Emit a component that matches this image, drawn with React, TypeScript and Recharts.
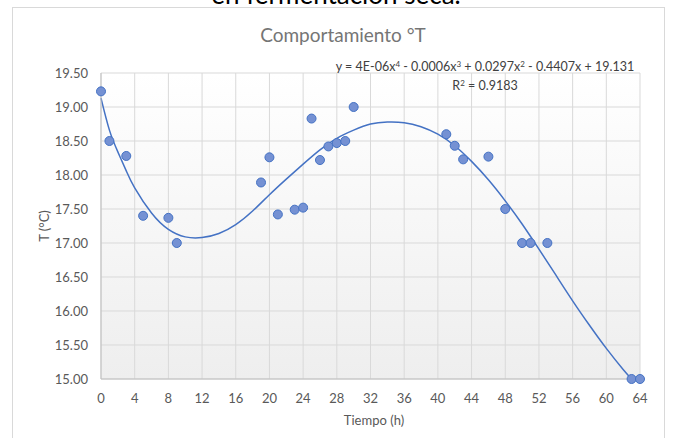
import { ComposedChart, Scatter, Line, XAxis, YAxis, CartesianGrid } from 'recharts'

// measured points
const hours = [0, 1, 3, 5, 8, 9, 19, 20, 21, 23, 24, 25, 26, 27, 28, 29, 30, 41, 42, 43, 46, 48, 50, 51, 53, 63, 64]
const temps = [19.23, 18.5, 18.28, 17.4, 17.37, 17.0, 17.89, 18.26, 17.42, 17.49, 17.52, 18.83, 18.22, 18.42, 18.47, 18.5, 19.0, 18.6, 18.43, 18.23, 18.27, 17.5, 17.0, 17.0, 17.0, 15.0, 15.0]

// polynomial trendline
const trendHours = [0, 1, 2, 3, 4, 6, 8, 10, 12, 14, 16, 18, 20, 22, 24, 26, 28, 30, 32, 34, 36, 38, 40, 42, 44, 46, 48, 50, 52, 54, 56, 58, 60, 62, 63]
const trendTemps = [19.13, 18.66, 18.34, 18.06, 17.81, 17.44, 17.2, 17.09, 17.08, 17.14, 17.27, 17.47, 17.71, 17.94, 18.16, 18.37, 18.54, 18.66, 18.75, 18.78, 18.77, 18.71, 18.6, 18.43, 18.2, 17.93, 17.62, 17.28, 16.91, 16.53, 16.15, 15.79, 15.45, 15.14, 15.0]

const xTicks = [0, 4, 8, 12, 16, 20, 24, 28, 32, 36, 40, 44, 48, 52, 56, 60, 64]
const yTicks = [15, 15.5, 16, 16.5, 17, 17.5, 18, 18.5, 19, 19.5]

const points = hours.map((h, i) => ({ h, t: temps[i] }))
const trend = trendHours.map((h, i) => ({ h, t: trendTemps[i] }))

const FONT = 'Lato, "Liberation Sans", sans-serif'
const TICK = { fill: '#595959', fontSize: 13, fontFamily: FONT }

export default function App() {
  return (
    <div style={{ position: 'absolute', left: 0, top: 0, width: 677, height: 438, background: '#fff', overflow: 'hidden' }}>
      <svg width={0} height={0} style={{ position: 'absolute' }}>
        <defs>
          <linearGradient id="plotBg" x1="0" y1="0" x2="0" y2="1">
            <stop offset="0%" stopColor="#ffffff" />
            <stop offset="100%" stopColor="#eeeeee" />
          </linearGradient>
        </defs>
      </svg>
      <ComposedChart width={677} height={438} margin={{ top: 73, right: 37, bottom: 0, left: 0 }}>
        <CartesianGrid stroke="#d9d9d9" fill="url(#plotBg)" fillOpacity={1} />
        <XAxis
          dataKey="h" type="number" domain={[0, 64]} ticks={xTicks} height={59}
          tick={TICK} tickLine={false} tickSize={0} tickMargin={15}
          axisLine={{ stroke: '#bfbfbf' }}
        />
        <YAxis
          dataKey="t" type="number" domain={[15, 19.5]} ticks={yTicks} width={101}
          tick={TICK} tickLine={false} tickSize={0} tickMargin={13}
          tickFormatter={(v: number) => v.toFixed(2)}
          axisLine={{ stroke: '#bfbfbf' }}
        />
        <Line
          data={trend} dataKey="t" type="natural" stroke="#4472c4" strokeWidth={1.5}
          dot={false} activeDot={false} isAnimationActive={false}
        />
        <Scatter
          data={points} dataKey="t" fill="#7591d3" stroke="#4472c4" strokeWidth={1}
          shape={(p: any) => <circle cx={p.cx} cy={p.cy} r={4.5} fill="#7591d3" stroke="#4472c4" strokeWidth={1} />}
          isAnimationActive={false}
        />
      </ComposedChart>
      <svg width={677} height={438} style={{ position: 'absolute', left: 0, top: 0, pointerEvents: 'none' }}>
        <rect x={12.5} y={7.5} width={652} height={440} fill="none" stroke="#d9d9d9" />
        <text x={336} y={4} textAnchor="middle" fontSize={26} fontFamily={FONT} fill="#000">en fermentación seca.</text>
        <text x={343} y={42} textAnchor="middle" fontSize={19} fontFamily={FONT} fill="#757575">Comportamiento °T</text>
        <text x={485} y={71} textAnchor="middle" fontSize={12.5} fontFamily={FONT} fill="#404040">
          y = 4E-06x<tspan dy={-4} fontSize={8}>4</tspan><tspan dy={4}> - 0.0006x</tspan>
          <tspan dy={-4} fontSize={8}>3</tspan><tspan dy={4}> + 0.0297x</tspan>
          <tspan dy={-4} fontSize={8}>2</tspan><tspan dy={4}> - 0.4407x + 19.131</tspan>
        </text>
        <text x={485} y={90} textAnchor="middle" fontSize={12.5} fontFamily={FONT} fill="#404040">
          R<tspan dy={-4} fontSize={8}>2</tspan><tspan dy={4}> = 0.9183</tspan>
        </text>
        <text x={374} y={425} textAnchor="middle" fontSize={13} fontFamily={FONT} fill="#595959">Tiempo (h)</text>
        <text transform="translate(49,226) rotate(-90)" textAnchor="middle" fontSize={13} fontFamily={FONT} fill="#595959">T (°C)</text>
      </svg>
    </div>
  )
}
